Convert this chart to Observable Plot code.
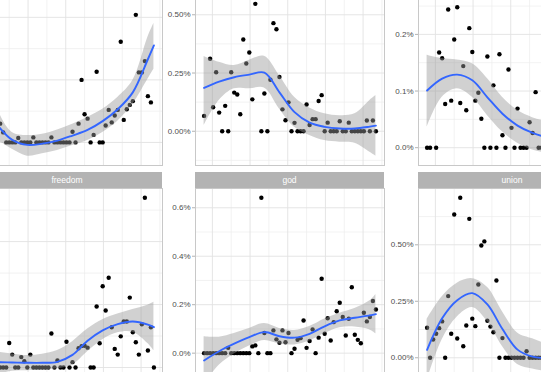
<!DOCTYPE html>
<html>
<head>
<meta charset="utf-8">
<script src="https://cdn.jsdelivr.net/npm/d3@7"></script>
<script src="https://cdn.jsdelivr.net/npm/@observablehq/plot@0.6"></script>
<style>
  body { margin: 0; background: #fff; }
  #chart { position: relative; width: 541px; height: 372px; overflow: hidden; background: #fff;
           font-family: "Liberation Sans", Arial, sans-serif; }
  .panel { position: absolute; }
  .panel svg { max-width: none !important; display: block; }
  .strip { position: absolute; height: 16px; line-height: 16px; background: #B3B3B3; color: #fff;
           font-size: 8.5px; text-align: center; }
</style>
</head>
<body>
<div id="chart"></div>
<script>
// One point per presidential term (share of words, in percent)
const years = [1789,1793,1797,1801,1805,1809,1813,1817,1821,1825,1829,1833,1837,1841,1845,1849,1853,1857,1861,1865,
  1869,1873,1877,1881,1885,1889,1893,1897,1901,1905,1909,1913,1917,1921,1925,1929,1933,1937,1941,1945,
  1949,1953,1957,1961,1965,1969,1973,1977,1981,1985,1989,1993,1997,2001,2005,2009,2013,2017];

const topLeft = [0.12,0.08,0.276,0.05,0.10,0.03,0.03,0.016,0,0,
  0,0,0.007,0,0,0,0,0.008,0,0,
  0,0,0,0.008,0,0,0,0,0,0,
  0.017,0,0.030,0.100,0.045,0.038,0,0.012,0.113,0,
  0,0.027,0.052,0.032,0.043,0.052,0.161,0.036,0.053,0.060,
  0.066,0.204,0.112,0.112,0.130,0.074,0.064,null];
const topMiddle = [0.066,null,0.311,0.103,0.253,0.080,0,0.109,0,0.253,
  0.166,0.158,0.073,0.394,0.291,0.338,0.137,0.547,0.693,0,
  0.162,0,0.221,0.464,0.438,0.233,0.094,0.047,0.124,0,
  0.036,0,0,0,0.115,0.027,0.052,0.052,0.130,0.155,
  0,0.037,0,0,0,0.043,0,0,0.037,0,
  0,0,0,0,0.046,0,0.046,0];
const topRight = [0,0,null,0,0.168,0.158,0.077,0.244,0.083,0.191,
  0.248,0.079,0.144,0.066,0.211,0.169,0.083,0.097,0.051,0,
  0.161,0,0.110,0,0.165,0.022,0,0.138,0.035,0,
  0.069,0,0,0,0.045,0.026,0.098,0,0,0,
  0.03,0,0,0.05,0,0.314,0,0,0.02,0,
  0,0.04,0,0,0.03,0,0,0];
const freedom = [0,0,0,0,0.02,0,0,0,0,0.078,
  0.041,0,0,0.033,0.020,0,0.041,0,0,0,
  0,0,0,0.108,0,0.022,0,0,0.082,0,
  0.017,0,0.061,0.068,0.069,0.063,0,0,0.194,0.077,
  0.258,0.181,0.285,0.128,0.059,0.041,0.099,0.146,0.146,0.222,
  0.112,0.080,0.041,0.137,0.539,0.054,0.128,0];
const god = [0,0,0,0,0,0,0,0,0.022,0,
  0,0,0,0,0,0,0.028,0.032,0,0.641,
  0.083,0,0,0.094,0.057,0.043,0.094,0.045,0.083,0,
  0.018,0.055,0.062,0.135,0.022,0.050,0.098,0,0.064,0.307,
  0.080,0.144,0.052,0.128,0.173,0.208,0.149,0.073,0.142,0.272,
  0.076,0.055,0.041,0.167,0.131,0.149,0.215,0.180];
const union = [0.133,0,0.081,0.106,0.131,0.161,0,0.273,0.106,0.634,
  0.085,0.708,0.051,0.143,0.615,0.173,0.140,0.324,0.497,0.515,
  0.164,0.138,0.113,0.342,0,0.087,0,0,0,0,
  0,0,0,0.029,0,0,0,0,0,0,
  0,0.02,0,0,0,0,0.03,0,0,0,
  0,0,0,0,0,0.02,0,0];

// Loess trend and its confidence band, sampled every 20 years
const smoothYears = [1789,1809,1829,1849,1869,1889,1909,1929,1949,1969,1989,2009,2017];
const topLeftFit  = [0.060,0.028,0.004,-0.004,-0.002,0.003,0.011,0.020,0.034,0.053,0.080,0.133,0.155];
const topLeftLow  = [0.000,0.002,-0.011,-0.022,-0.018,-0.013,-0.005,0.003,0.016,0.034,0.061,0.101,0.117];
const topLeftHigh = [0.120,0.054,0.016,0.011,0.013,0.020,0.029,0.040,0.053,0.072,0.099,0.168,0.190];
const topMiddleFit  = [0.186,0.213,0.232,0.243,0.252,0.167,0.082,0.037,0.019,0.012,0.012,0.020,0.024];
const topMiddleLow  = [0.024,0.132,0.182,0.182,0.186,0.096,0.017,-0.018,-0.040,-0.047,-0.051,-0.090,-0.107];
const topMiddleHigh = [0.321,0.296,0.282,0.305,0.322,0.239,0.146,0.100,0.075,0.067,0.075,0.132,0.153];
const topRightFit  = [0.101,0.122,0.129,0.119,0.089,0.060,0.039,0.026,0.018,0.014,0.012,0.015,0.018];
const topRightLow  = [0.036,0.089,0.104,0.089,0.057,0.028,0.008,-0.004,-0.010,-0.012,-0.012,-0.015,-0.015];
const topRightHigh = [0.163,0.157,0.155,0.148,0.122,0.089,0.066,0.053,0.046,0.040,0.038,0.046,0.055];
const freedomFit  = [0.020,0.017,0.016,0.015,0.015,0.018,0.040,0.085,0.118,0.138,0.146,0.136,0.128];
const freedomLow  = [-0.053,-0.025,-0.012,-0.010,-0.008,-0.004,0.008,0.050,0.088,0.110,0.112,0.076,0.053];
const freedomHigh = [0.070,0.050,0.043,0.038,0.042,0.054,0.082,0.122,0.152,0.170,0.184,0.198,0.207];
const godFit  = [-0.030,0.008,0.039,0.066,0.087,0.070,0.064,0.080,0.111,0.135,0.146,0.156,0.161];
const godLow  = [-0.128,-0.050,-0.003,0.030,0.052,0.038,0.034,0.050,0.081,0.105,0.108,0.096,0.080];
const godHigh = [0.068,0.066,0.081,0.102,0.122,0.102,0.094,0.110,0.141,0.165,0.184,0.216,0.242];
const unionFit  = [0.035,0.175,0.255,0.286,0.236,0.127,0.036,0.005,-0.002,0.002,0.006,0.010,0.012];
const unionLow  = [-0.100,0.080,0.180,0.222,0.160,0.050,-0.030,-0.050,-0.060,-0.055,-0.050,-0.070,-0.117];
const unionHigh = [0.170,0.270,0.330,0.350,0.312,0.204,0.110,0.084,0.060,0.058,0.062,0.090,0.140];

// Axis breaks
const xMajor = [1800, 1850, 1900, 1950, 2000];
const xMinor = [1825, 1875, 1925, 1975, 2025];
const facetLabels = [null, null, null, "freedom", "god", "union"];

const panels = [
  {values: topLeft, fit: topLeftFit, low: topLeftLow, high: topLeftHigh,
   yMajor: [0, 0.1, 0.2], yMinor: [0.05, 0.15, 0.25], yLabels: [], digits: 1},
  {values: topMiddle, fit: topMiddleFit, low: topMiddleLow, high: topMiddleHigh,
   yMajor: [0, 0.25, 0.5], yMinor: [-0.125, 0.125, 0.375, 0.625], yLabels: [0, 0.25, 0.5], digits: 2},
  {values: topRight, fit: topRightFit, low: topRightLow, high: topRightHigh,
   yMajor: [0, 0.1, 0.2, 0.3], yMinor: [0.05, 0.15, 0.25], yLabels: [0, 0.1, 0.2], digits: 1},
  {values: freedom, fit: freedomFit, low: freedomLow, high: freedomHigh,
   yMajor: [0, 0.2, 0.4], yMinor: [0.1, 0.3, 0.5], yLabels: [], digits: 1},
  {values: god, fit: godFit, low: godLow, high: godHigh,
   yMajor: [0, 0.2, 0.4, 0.6], yMinor: [-0.1, 0.1, 0.3, 0.5], yLabels: [0, 0.2, 0.4, 0.6], digits: 1},
  {values: union, fit: unionFit, low: unionLow, high: unionHigh,
   yMajor: [0, 0.25, 0.5], yMinor: [-0.125, 0.125, 0.375, 0.625], yLabels: [0, 0.25, 0.5], digits: 2}
];

// Facet grid geometry (free y scales, shared x)
const PANEL_W = 189, PANEL_H = 205, AXIS_W = 32, STRIP_H = 16;
const colLeft = [-27.5, 195, 417.5];
const rowTop = [-40, 188];

// ggplot-style 5% expansion of a continuous range
function expand([lo, hi]) {
  const pad = (hi - lo) * 0.05;
  return [lo - pad, hi + pad];
}

const chart = document.getElementById("chart");
const xDomain = expand(d3.extent(years));

panels.forEach((p, i) => {
  const col = i % 3, row = Math.floor(i / 3);
  const points = years.map((year, k) => ({year, value: p.values[k]})).filter(d => d.value != null);
  const band = smoothYears.map((year, k) => ({year, fit: p.fit[k], low: p.low[k], high: p.high[k]}));
  const yDomain = expand(d3.extent(points.map(d => d.value).concat(p.low, p.high)));
  const fmt = d => d.toFixed(p.digits) + "%";

  const marks = [
    Plot.gridX(xMinor, {stroke: "#ECECEC", strokeOpacity: 1, strokeWidth: 0.7}),
    Plot.gridY(p.yMinor, {stroke: "#ECECEC", strokeOpacity: 1, strokeWidth: 0.7}),
    Plot.gridX(xMajor, {stroke: "#E2E2E2", strokeOpacity: 1, strokeWidth: 0.9}),
    Plot.gridY(p.yMajor, {stroke: "#E2E2E2", strokeOpacity: 1, strokeWidth: 0.9}),
    Plot.dot(points, {x: "year", y: "value", r: 2.2, fill: "black", stroke: null}),
    Plot.areaY(band, {x: "year", y1: "low", y2: "high", fill: "#999999", fillOpacity: 0.45, curve: "catmull-rom"}),
    Plot.lineY(band, {x: "year", y: "fit", stroke: "#3366FF", strokeWidth: 1.9, curve: "catmull-rom"}),
    Plot.frame({stroke: "#C8C8C8", strokeWidth: 1})
  ];
  if (p.yLabels.length) {
    marks.push(Plot.axisY(p.yLabels, {anchor: "left", tickSize: 3, tickPadding: 2, tickFormat: fmt, fontSize: 8,
                                      stroke: "#B3B3B3", fill: "#4D4D4D", label: null}));
  }

  const svg = Plot.plot({
    width: AXIS_W + PANEL_W,
    height: PANEL_H,
    marginLeft: AXIS_W, marginRight: 0, marginTop: 0, marginBottom: 0,
    style: {background: "transparent", fontFamily: "'Liberation Sans', Arial, sans-serif", overflow: "visible"},
    x: {domain: xDomain, axis: null},
    y: {domain: yDomain, axis: null},
    marks
  });

  const holder = document.createElement("div");
  holder.className = "panel";
  holder.style.left = (colLeft[col] - AXIS_W) + "px";
  holder.style.top = rowTop[row] + "px";
  holder.style.width = (AXIS_W + PANEL_W) + "px";
  holder.style.height = PANEL_H + "px";
  holder.appendChild(svg);
  chart.appendChild(holder);

  if (facetLabels[i]) {
    const strip = document.createElement("div");
    strip.className = "strip";
    strip.style.left = colLeft[col] + "px";
    strip.style.top = (rowTop[row] - STRIP_H) + "px";
    strip.style.width = PANEL_W + "px";
    strip.textContent = facetLabels[i];
    chart.appendChild(strip);
  }
});
</script>
</body>
</html>
